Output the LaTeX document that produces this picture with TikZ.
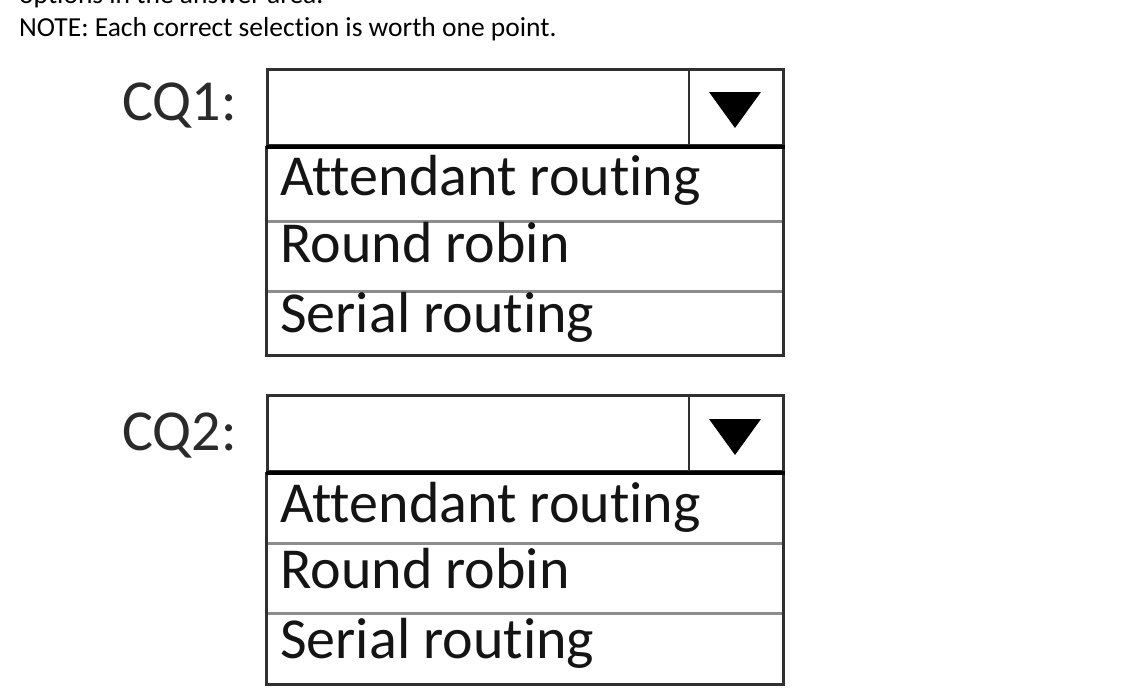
\documentclass[tikz,border=0pt]{standalone}
\usepackage{fontspec}
\setmainfont{Carlito}[Ligatures={NoCommon}]
\definecolor{framegray}{HTML}{303030}
\definecolor{rowgray}{HTML}{8C8C8C}
\definecolor{labelgray}{HTML}{2A2A2A}
\tikzset{
  selbox/.style={draw=framegray, line width=3pt, minimum width=516pt, minimum height=76pt, inner sep=0pt, anchor=north west},
  btnbox/.style={draw=framegray, line width=2.5pt, minimum width=95pt, minimum height=76pt, inner sep=0pt, anchor=north east},
  optrow/.style={draw=rowgray, line width=1.3pt, minimum width=516pt, minimum height=#1, inner sep=0pt, anchor=north west},
  opttext/.style={anchor=base west, inner sep=0pt, text=black!92, font=\fontsize{58}{68}\selectfont},
  qlabel/.style={anchor=base west, inner sep=0pt, text=labelgray, font=\fontsize{58}{68}\selectfont},
  notetext/.style={anchor=base west, inner sep=0pt, font=\fontsize{27.5}{33}\selectfont},
}
\begin{document}
\begin{tikzpicture}[x=1pt,y=-1pt]
            \useasboundingbox (0,0) rectangle (1132,693);
            \fill[white] (0,0) rectangle (1132,693);
            \clip (0,0) rectangle (1132,693);

            \node[notetext] (top)  at (19,4)  {options in the answer area.};
            \node[notetext] (note) at (19,37) {NOTE: Each correct selection is worth one point.};

            % first question
            \node[qlabel]  (q1)  at (122,120) {CQ1:};
            \node[selbox]  (s1)  at (266,68)  {};
            \node[btnbox]  (b1)  at (s1.north east) {};
            \fill[black] (709,92) -- (761,92) -- (735,128) -- cycle;
            \node[optrow=73pt] (r11) at (s1.south west) {};
            \node[optrow=69pt] (r12) at (r11.south west) {};
            \node[optrow=63pt] (r13) at (r12.south west) {};
            \draw[framegray,line width=3pt] (r11.north west) rectangle (r13.south east);
            \draw[black,line width=4.5pt] (s1.south west) -- (s1.south east);
            \node[opttext] (a11) at (280,195) {Attendant routing};
            \node[opttext] (a12) at (280,262) {Round robin};
            \node[opttext] (a13) at (280,332) {Serial routing};

            % second question
            \node[qlabel]  (q2)  at (122,450) {CQ2:};
            \node[selbox]  (s2)  at (266,394) {};
            \node[btnbox]  (b2)  at (s2.north east) {};
            \fill[black] (709,419) -- (761,419) -- (735,455) -- cycle;
            \node[optrow=69pt] (r21) at (s2.south west) {};
            \node[optrow=69pt] (r22) at (r21.south west) {};
            \node[optrow=70pt] (r23) at (r22.south west) {};
            \draw[framegray,line width=3pt] (r21.north west) rectangle (r23.south east);
            \draw[black,line width=4.5pt] (s2.south west) -- (s2.south east);
            \node[opttext] (a21) at (280,522) {Attendant routing};
            \node[opttext] (a22) at (280,588) {Round robin};
            \node[opttext] (a23) at (280,658) {Serial routing};
\end{tikzpicture}
\end{document}
